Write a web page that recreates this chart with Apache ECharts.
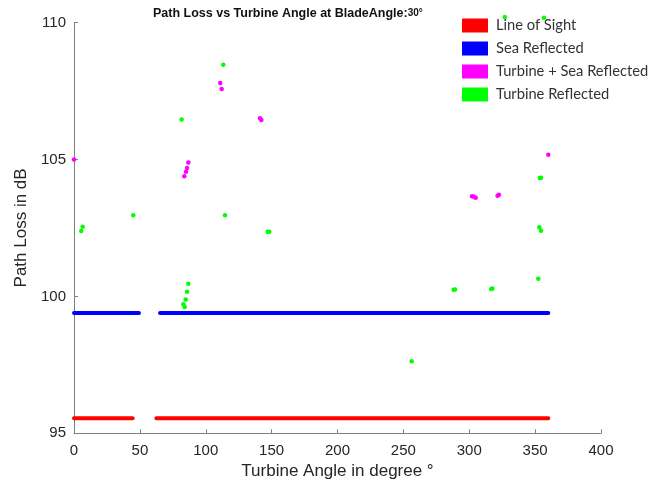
<!DOCTYPE html>
<html>
<head>
<meta charset="utf-8">
<script src="https://cdn.jsdelivr.net/npm/echarts@6/dist/echarts.min.js"></script>
<style>
  html, body { margin: 0; padding: 0; background: #fff; }
  #chart { width: 672px; height: 488px; }
</style>
</head>
<body>
<div id="chart"></div>
<script>
// axis ticks
const xTicks = [0, 50, 100, 150, 200, 250, 300, 350, 400]
const yTicks = [95, 100, 105, 110]

// line of sight / sea reflected: flat levels with a gap around 45-65 deg
const lineOfSight = [[0, 95.55], [44.5, 95.55], [53, '-'], [62.5, 95.55], [360, 95.55]]
const seaReflected = [[0, 99.39], [49.3, 99.39], [57, '-'], [65.3, 99.39], [360, 99.39]]

// turbine + sea reflected points [angle, loss]
const turbineSea = [
  [0, 105.0],
  [83.7, 104.39], [85.0, 104.55], [85.8, 104.69], [86.8, 104.89],
  [111.0, 107.79], [112.1, 107.57],
  [141.2, 106.5], [142.2, 106.44],
  [302.1, 103.66], [303.5, 103.64], [304.9, 103.6],
  [321.5, 103.67], [322.5, 103.71],
  [360, 105.17]
]

// turbine reflected points [angle, loss]
const turbineRefl = [
  [5.5, 102.39], [6.6, 102.54],
  [45.0, 102.96],
  [81.7, 106.46],
  [83.0, 99.71], [84.0, 99.61], [84.8, 99.89], [85.8, 100.17], [86.8, 100.46],
  [113.3, 108.46],
  [114.6, 102.96],
  [147.0, 102.36], [148.2, 102.36],
  [256.3, 97.63],
  [288.2, 100.24], [289.2, 100.25],
  [316.6, 100.27], [317.6, 100.29],
  [327, 110.2], [356.7, 110.17],
  [352.4, 100.64],
  [353.2, 102.52], [354.5, 102.4],
  [353.5, 104.32], [354.5, 104.33]
]

const axisGray = '#7f7f7f'
const labelColor = '#262626'
const font = 'Liberation Sans'

const chart = echarts.init(document.getElementById('chart'))
chart.setOption({
  animation: false,
  backgroundColor: '#fff',
  title: {
    text: '{b|Path Loss vs Turbine Angle at BladeAngle:}{n|30°}',
    left: 148,
    top: 2,
    textStyle: {
      rich: {
        b: { fontFamily: font, fontWeight: 'bold', fontSize: 12.5, color: '#111' },
        n: { fontFamily: font, fontSize: 10, color: '#111' }
      }
    }
  },
  legend: {
    orient: 'vertical',
    left: 462,
    top: 18,
    padding: 0,
    icon: 'rect',
    itemWidth: 26,
    itemHeight: 14,
    itemGap: 8,
    textStyle: { fontFamily: 'Lato', fontSize: 14.7, color: '#333', padding: [0, 0, 3, 3] },
    data: ['Line of Sight', 'Sea Reflected', 'Turbine + Sea Reflected', 'Turbine Reflected']
  },
  grid: { left: 74, right: 71, top: 22.5, bottom: 54.7, containLabel: false },
  xAxis: {
    type: 'value',
    min: xTicks[0],
    max: xTicks[xTicks.length - 1],
    interval: 50,
    name: 'Turbine Angle in degree °',
    nameLocation: 'middle',
    nameGap: 28,
    nameTextStyle: { fontFamily: font, fontSize: 17, color: labelColor },
    axisLine: { lineStyle: { color: axisGray } },
    axisTick: { inside: true, length: 4, lineStyle: { color: axisGray } },
    axisLabel: { fontFamily: font, fontSize: 15, color: labelColor, margin: 10 },
    splitLine: { show: false }
  },
  yAxis: {
    type: 'value',
    min: yTicks[0],
    max: yTicks[yTicks.length - 1],
    interval: 5,
    name: 'Path Loss in dB',
    nameLocation: 'middle',
    nameGap: 42,
    nameTextStyle: { fontFamily: font, fontSize: 17, color: labelColor },
    axisLine: { show: true, lineStyle: { color: axisGray } },
    axisTick: { show: true, inside: true, length: 4, lineStyle: { color: axisGray } },
    axisLabel: { fontFamily: font, fontSize: 15, color: labelColor, margin: 8 },
    splitLine: { show: false }
  },
  series: [
    {
      name: 'Line of Sight',
      type: 'line',
      data: lineOfSight,
      showSymbol: false,
      connectNulls: false,
      itemStyle: { color: '#ff0000' },
      lineStyle: { color: '#ff0000', width: 4, cap: 'round' }
    },
    {
      name: 'Sea Reflected',
      type: 'line',
      data: seaReflected,
      showSymbol: false,
      connectNulls: false,
      itemStyle: { color: '#0000ff' },
      lineStyle: { color: '#0000ff', width: 4, cap: 'round' }
    },
    {
      name: 'Turbine + Sea Reflected',
      type: 'scatter',
      data: turbineSea,
      symbolSize: 4.5,
      itemStyle: { color: '#ff00ff', opacity: 1 }
    },
    {
      name: 'Turbine Reflected',
      type: 'scatter',
      data: turbineRefl,
      symbolSize: 4.5,
      clip: false,
      itemStyle: { color: '#00ff00', opacity: 1 }
    }
  ]
})
</script>
</body>
</html>
